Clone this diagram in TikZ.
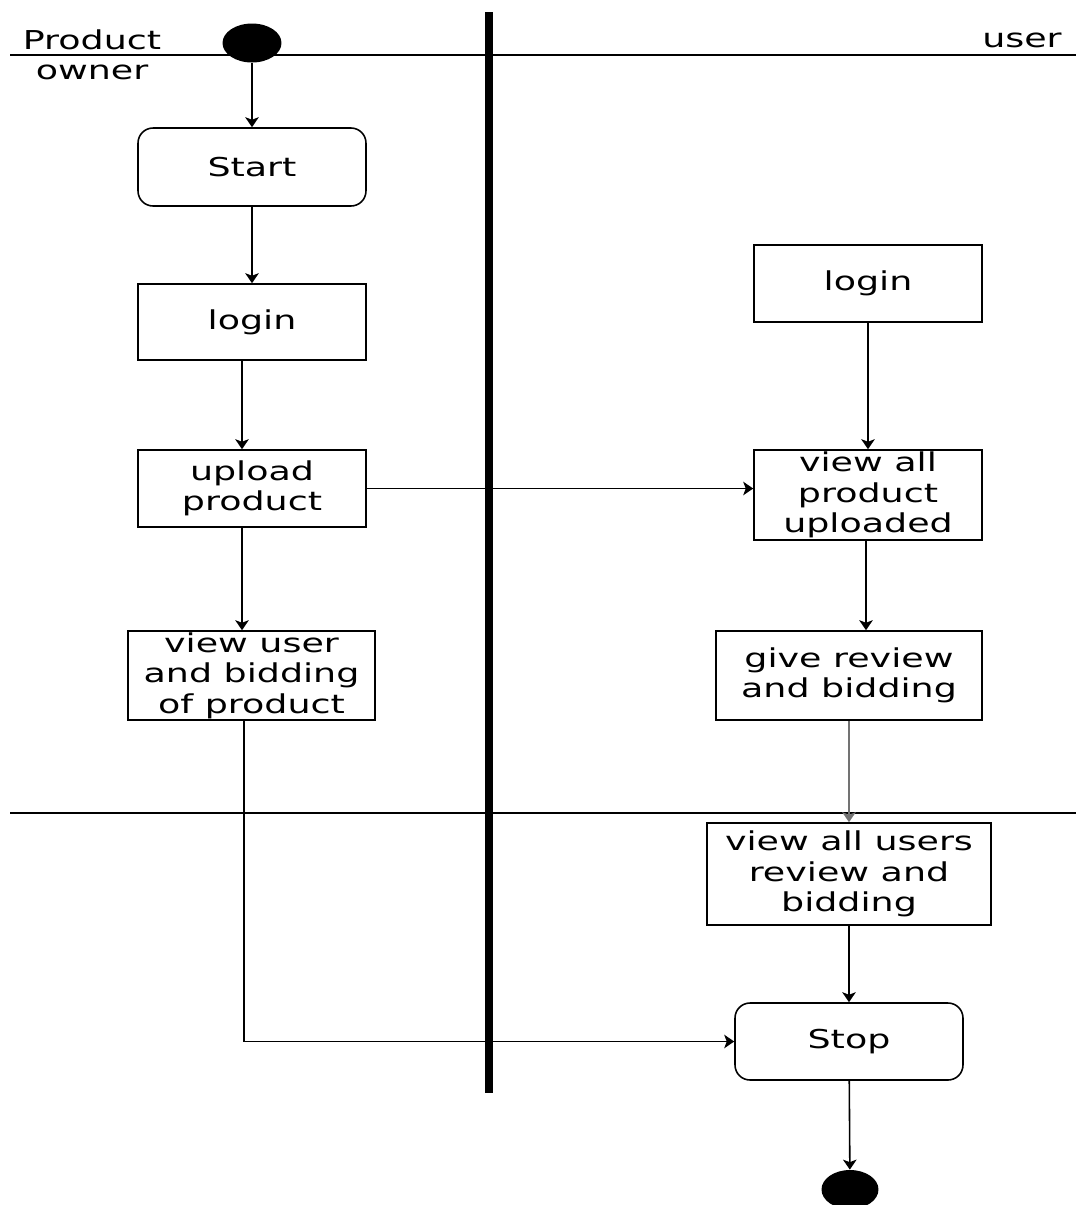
\documentclass[tikz,border=0pt]{standalone}
\usepackage{fontspec}
\setmainfont{DejaVu Sans}[FakeStretch=1.4]
\usetikzlibrary{arrows.meta,shapes.geometric}

\begin{document}
\begin{tikzpicture}[x=0.02cm,y=-0.02cm,
    every node/.style={font=\fontsize{14.8}{17.4}\selectfont,align=center},
    act/.style={draw,line width=0.9pt,inner sep=0pt},
    actround/.style={act,rounded corners=0.3cm},
    dot/.style={ellipse,fill,inner sep=0pt,minimum width=1.18cm,minimum height=0.78cm},
    flow/.style={line width=0.9pt,-{Stealth[length=0.2cm,width=0.27cm,inset=0.05cm]}}]
            \useasboundingbox (0,0) rectangle (1076,1205);

            % lanes
            \draw[line width=1.2pt] (10,55) -- (1076,55);
            \draw[line width=1.2pt] (10,813) -- (1076,813);
            \draw[line width=4pt] (489,12) -- (489,1093);
            \node (lowner) at (92,55) {Product\\owner};
            \node (luser) at (1022,40) {user};

            \node[dot] (sdot) at (252,43) {};
            \node[actround,minimum width=4.56cm,minimum height=1.56cm] (start) at (252,167) {Start};
            \node[act,minimum width=4.56cm,minimum height=1.52cm] (ologin) at (252,322) {login};
            \node[act,minimum width=4.56cm,minimum height=1.54cm] (upload) at (252,488.5) {upload\\product};
            \node[act,minimum width=4.94cm,minimum height=1.78cm] (viewbid) at (251.5,675.5) {view user\\and bidding\\of product};

            \node[act,minimum width=4.56cm,minimum height=1.54cm] (ulogin) at (868,283.5) {login};
            \node[act,minimum width=4.56cm,minimum height=1.8cm] (viewall) at (868,495) {view all\\product\\uploaded};
            \node[act,minimum width=5.32cm,minimum height=1.78cm] (review) at (849,675.5) {give review\\and bidding};
            \node[act,minimum width=5.68cm,minimum height=2.04cm] (allrev) at (849,874) {view all users\\review and\\bidding};
            \node[actround,minimum width=4.56cm,minimum height=1.54cm] (stop) at (849,1041.5) {Stop};
            \node[dot,minimum width=1.14cm] (edot) at (850,1189.5) {};

            \draw[flow] (sdot) -- (start);
            \draw[flow] (start) -- (ologin);
            \draw[flow] ([xshift=-0.2cm]ologin.south) -- ([xshift=-0.2cm]upload.north);
            \draw[flow] ([xshift=-0.2cm]upload.south) -- ([xshift=-0.19cm]viewbid.north);
            \draw[flow] (upload.east) -- (upload.east -| viewall.west);
            \draw[flow] (ulogin) -- (viewall);
            \draw[flow] ([xshift=-0.04cm]viewall.south) -- ([xshift=-0.04cm]viewall.south |- review.north);
            \draw[flow,draw=black!55] (review) -- (allrev);
            \draw[flow] (allrev) -- (stop);
            \draw[flow] ([xshift=-0.15cm]viewbid.south) |- (stop.west);
            \draw[flow] (stop) -- (edot);
\end{tikzpicture}
\end{document}
